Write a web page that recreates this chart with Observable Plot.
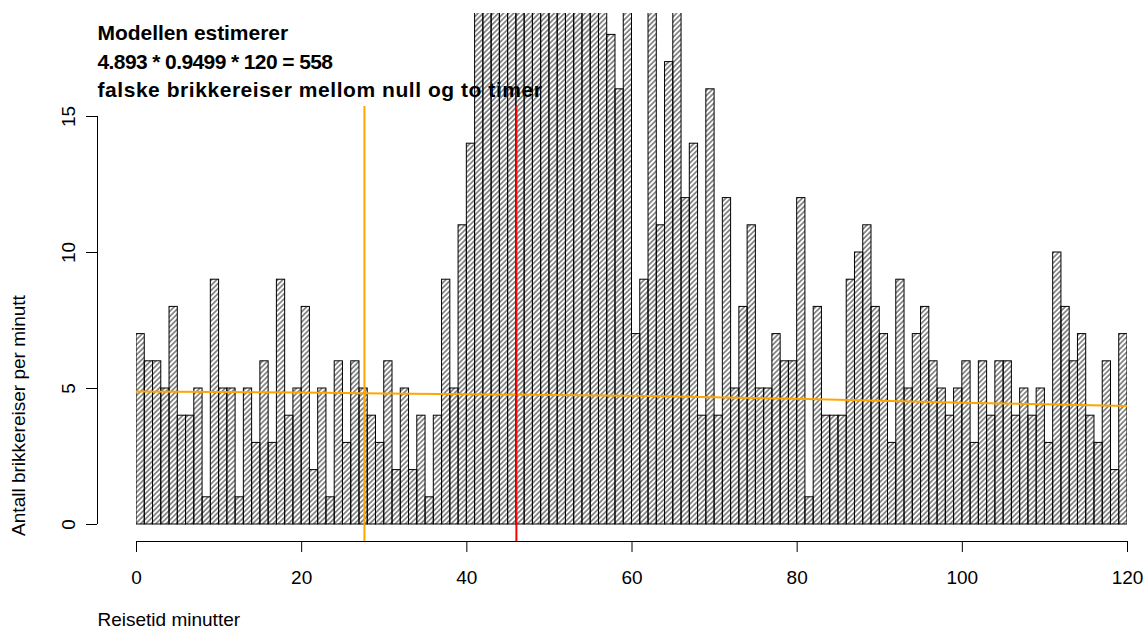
<!DOCTYPE html>
<html>
<head>
<meta charset="utf-8">
<script src="https://cdn.jsdelivr.net/npm/d3@7"></script>
<script src="https://cdn.jsdelivr.net/npm/@observablehq/plot@0.6"></script>
<style>
  html, body { margin: 0; padding: 0; background: white; }
</style>
</head>
<body>
<div id="chart"></div>
<script>
// Travel time (minute bins, start of each 1-minute bin)
const minutes = d3.range(0, 120);
// Count of card trips per minute (bars above ~18.8 are clipped in the reference; tall values estimated)
const counts = [
  7, 6, 6, 5, 8, 4, 4, 5, 1, 9,
  5, 5, 1, 5, 3, 6, 3, 9, 4, 5,
  8, 2, 5, 1, 6, 3, 6, 5, 4, 3,
  6, 2, 5, 2, 4, 1, 4, 9, 5, 11,
  14, 22, 24, 27, 26, 30, 28, 31, 29, 27,
  30, 26, 28, 25, 24, 22, 21, 18, 16, 20,
  7, 9, 20, 11, 17, 19, 12, 14, 4, 16,
  4, 12, 5, 8, 11, 5, 5, 7, 6, 6,
  12, 1, 8, 4, 4, 4, 9, 10, 11, 8,
  7, 3, 9, 5, 7, 8, 6, 5, 4, 5,
  6, 3, 6, 4, 6, 6, 4, 5, 4, 5,
  3, 10, 8, 6, 7, 4, 3, 6, 2, 7
];
// Model curve (orange)
const curveX = [0, 10, 20, 30, 40, 50, 60, 70, 80, 90, 100, 110, 120];
const curveY = [4.89, 4.87, 4.85, 4.82, 4.79, 4.76, 4.73, 4.68, 4.62, 4.55, 4.48, 4.42, 4.36];
// Vertical marker lines
const vlineX = [27.6, 46.0];
const vlineColor = ["orange", "red"];
const vlineTop = [15.37, 15.37];
// Axes
const xTicks = [0, 20, 40, 60, 80, 100, 120];
const yTicks = [0, 5, 10, 15];
const annotationLines = [
  "Modellen estimerer",
  "4.893 * 0.9499 * 120 = 558",
  "falske brikkereiser mellom null og to timer"
];
const annotationSpacing = [-0.05, -0.6, 0.55];
const xLabel = "Reisetid minutter";
const yLabel = "Antall brikkereiser per minutt";

const bars = minutes.map((m, i) => ({x1: m, x2: m + 1, n: counts[i]}));
const curve = curveX.map((x, i) => ({x, y: curveY[i]}));
const vlines = vlineX.map((x, i) => ({x, top: vlineTop[i], color: vlineColor[i]}));

const annotationMarks = annotationLines.map((line, i) =>
  Plot.text([line], {
    text: d => d, frameAnchor: "top-left", dx: -39, dy: 12 + i * 28.5,
    lineAnchor: "top", textAnchor: "start", fontSize: 21, fontWeight: "bold", fill: "black",
    className: "ann" + i
  })
);

const plot = Plot.plot({
  width: 1148,
  height: 630,
  marginLeft: 136,
  marginRight: 21,
  marginTop: 13,
  marginBottom: 89,
  x: {domain: [0, 120], axis: null},
  y: {domain: [-0.625, 18.787], axis: null},
  style: {fontFamily: "'Liberation Sans', Arial, Helvetica, sans-serif", fontSize: "19px", background: "white", color: "black"},
  marks: [
    Plot.rect(bars, {x1: "x1", x2: "x2", y1: 0, y2: "n", fill: "url(#hatch)", stroke: "black", strokeWidth: 1, clip: true}),
    Plot.line(curve, {x: "x", y: "y", stroke: "orange", strokeWidth: 2, clip: true}),
    Plot.ruleX(vlines, {x: "x", y1: -1, y2: "top", stroke: "color", strokeWidth: 2, clip: true}),
    ...annotationMarks,
    // x axis
    Plot.frame({anchor: "bottom", stroke: "black"}),
    Plot.axisX({ticks: xTicks, tickSize: 11, tickPadding: 18, fontSize: 19, label: null, anchor: "bottom"}),
    Plot.text([xLabel], {text: d => d, frameAnchor: "bottom-left", dx: -39, dy: 78, textAnchor: "start", lineAnchor: "middle", fontSize: 19}),
    // y axis
    Plot.ruleX([xTicks[0]], {y1: yTicks[0], y2: yTicks[yTicks.length - 1], dx: -39, stroke: "black"}),
    Plot.axisY({ticks: yTicks, tickSize: 11, tickFormat: () => "", dx: -39, anchor: "left", label: null}),
    Plot.text(yTicks, {y: d => d, text: d => String(d), frameAnchor: "left", dx: -68, rotate: -90, textAnchor: "middle", lineAnchor: "middle", fontSize: 19}),
    Plot.text([yLabel], {text: d => d, frameAnchor: "bottom-left", dx: -118, dy: -126, rotate: -90, textAnchor: "middle", lineAnchor: "middle", fontSize: 19})
  ]
});

// per-line letter spacing for the annotation (matches the reference line widths)
annotationSpacing.forEach((s, i) => {
  d3.select(plot).selectAll(".ann" + i + " text").style("letter-spacing", s + "px");
});

// hatch pattern (45° lines, like R's density hatching)
const defs = d3.select(plot).insert("defs", ":first-child");
const pat = defs.append("pattern")
  .attr("id", "hatch")
  .attr("patternUnits", "userSpaceOnUse")
  .attr("width", 3.6)
  .attr("height", 3.6)
  .attr("patternTransform", "rotate(45)");
pat.append("line")
  .attr("x1", 1.8).attr("y1", 0).attr("x2", 1.8).attr("y2", 3.6)
  .attr("stroke", "#000").attr("stroke-width", 0.85);

document.getElementById("chart").appendChild(plot);
</script>
</body>
</html>
